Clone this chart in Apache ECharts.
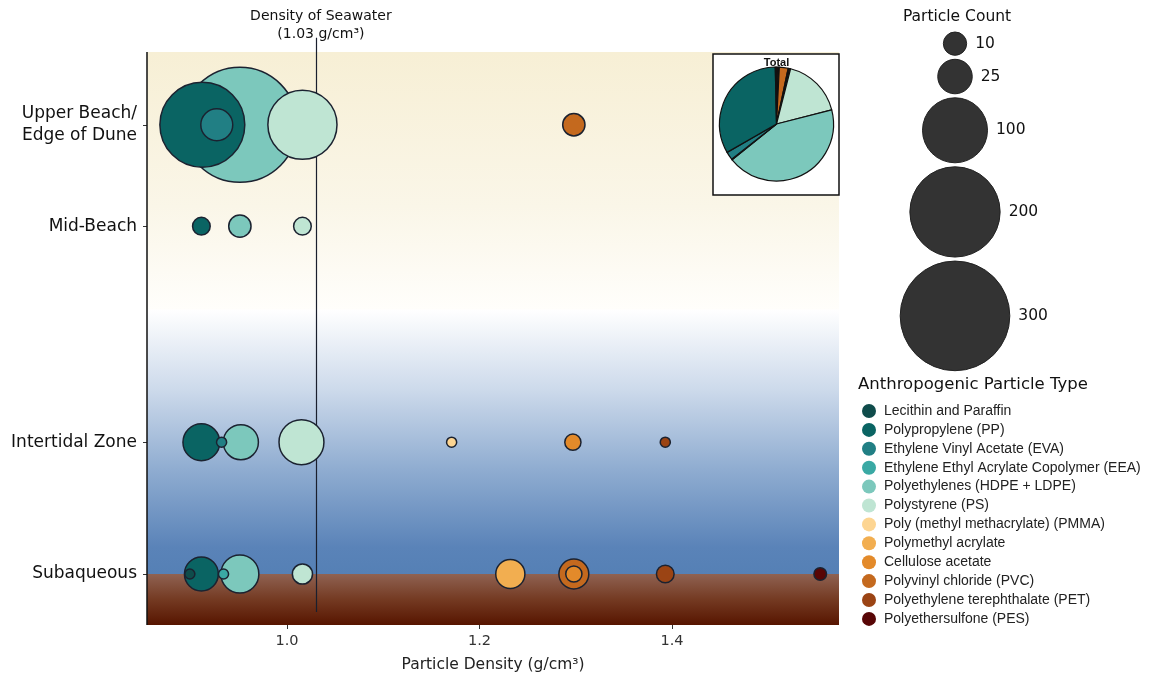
<!DOCTYPE html>
<html>
<head>
<meta charset="utf-8">
<script src="https://cdn.jsdelivr.net/npm/echarts@6/dist/echarts.min.js"></script>
<style>html,body{margin:0;padding:0;background:#fff}#c{width:1160px;height:684px}</style>
</head>
<body>
<div id="c"></div>
<script>
// ---------------- DATA ----------------
const zones = ['Subaqueous', 'Intertidal Zone', 'Mid-Beach', 'Upper Beach/\nEdge of Dune'];
const zoneLevels = [0.89, 3.19, 6.96, 8.73];
const xTicks = [1.0, 1.2, 1.4];
const seawaterDensity = 1.03;

const types = [
  'Lecithin and Paraffin',
  'Polypropylene (PP)',
  'Ethylene Vinyl Acetate (EVA)',
  'Ethylene Ethyl Acrylate Copolymer (EEA)',
  'Polyethylenes (HDPE + LDPE)',
  'Polystyrene (PS)',
  'Poly (methyl methacrylate) (PMMA)',
  'Polymethyl acrylate',
  'Cellulose acetate',
  'Polyvinyl chloride (PVC)',
  'Polyethylene terephthalate (PET)',
  'Polyethersulfone (PES)'
];

// [density, zone index, particle count]
const lecithin  = [[0.899, 0, 1]];
const pp        = [[0.912, 3, 176], [0.911, 2, 5], [0.911, 1, 29], [0.911, 0, 24]];
const eva       = [[0.927, 3, 21], [0.932, 1, 1]];
const eea       = [[0.934, 0, 1]];
const pe        = [[0.951, 3, 331], [0.951, 2, 9], [0.952, 1, 26], [0.951, 0, 31]];
const ps        = [[1.016, 3, 114], [1.016, 2, 5], [1.015, 1, 45], [1.016, 0, 7]];
const pmma      = [[1.171, 1, 1]];
const pma       = [[1.232, 0, 17]];
const cellulose = [[1.297, 1, 4], [1.298, 0, 4]];
const pvc       = [[1.298, 3, 9], [1.298, 0, 18]];
const pet       = [[1.393, 1, 1], [1.393, 0, 5]];
const pes       = [[1.554, 0, 2]];
const typeData = [lecithin, pp, eva, eea, pe, ps, pmma, pma, cellulose, pvc, pet, pes];

// Totals shown in the inset pie
const pieTotals = [3, 290, 20, 2, 380, 150, 1, 2, 3, 22, 3, 4];

const sizeLegendCounts = [10, 25, 100, 200, 300];

// ---------------- STYLE ----------------
const palette = ['#0f4c4b', '#0a6463', '#217f84', '#3aa9a4', '#7cc8bc', '#bfe5d3',
                 '#fdd592', '#f2ae50', '#e38a2a', '#c4691e', '#9b4414', '#580606'];
const FONT = '"DejaVu Sans", Verdana, sans-serif';
const FONT2 = '"Liberation Sans", Arial, sans-serif';
const bubbleSize = n => 4 + 6.1 * Math.sqrt(n);
const xMin = 0.8545, xMax = 1.5735, yMax = 10.25;

const chart = echarts.init(document.getElementById('c'), null, {renderer: 'canvas'});

const maxCount = typeData.map(d => Math.max(...d.map(p => p[2])));
const order = types.map((t, i) => i).sort((a, b) => maxCount[b] - maxCount[a]);
const bubbleSeries = order.map((i, rank) => ({
  name: types[i], type: 'scatter', xAxisIndex: 0, yAxisIndex: 0, z: 10 + rank,
  silent: true, emphasis: {disabled: true},
  data: typeData[i].map(p => [p[0], zoneLevels[p[1]], p[2]]),
  symbolSize: v => bubbleSize(v[2]),
  itemStyle: {color: palette[i], borderColor: '#1b2230', borderWidth: 1.5, opacity: 1}
}));

// size legend: stack circles vertically
const legendCenters = [];
let yCur = 32;
sizeLegendCounts.forEach(n => {
  const r = bubbleSize(n) / 2;
  legendCenters.push(yCur + r);
  yCur += 2 * r + 4;
});

const grad = stops => ({type: 'linear', x: 0, y: 0, x2: 0, y2: 1,
  colorStops: stops.map(s => ({offset: s[0], color: s[1]}))});

const option = {
  animation: false,
  backgroundColor: '#ffffff',
  grid: [
    {left: 147, right: 1160 - 839, top: 625 - 10.25 * 57.3, bottom: 59, containLabel: false},
    {left: 900, top: 0, width: 110, height: 370}
  ],
  xAxis: [
    {
      type: 'value', gridIndex: 0, min: xMin, max: xMax,
      name: 'Particle Density (g/cm³)', nameLocation: 'middle', nameGap: 32,
      nameTextStyle: {fontFamily: FONT, fontSize: 15.5, color: '#222'},
      axisLine: {show: false}, splitLine: {show: false},
      axisTick: {show: true, customValues: xTicks, length: 4, lineStyle: {color: '#333'}},
      axisLabel: {customValues: xTicks, formatter: v => v.toFixed(1), margin: 9,
                  fontFamily: FONT, fontSize: 14.5, color: '#333'}
    },
    {type: 'value', gridIndex: 1, min: 0, max: 1, show: false}
  ],
  yAxis: [
    {
      type: 'value', gridIndex: 0, min: 0, max: yMax,
      axisLine: {show: false}, splitLine: {show: false},
      axisTick: {show: true, customValues: zoneLevels, length: 4, lineStyle: {color: '#333'}},
      axisLabel: {
        customValues: zoneLevels, margin: 10, fontFamily: FONT, fontSize: 17, color: '#111',
        lineHeight: 22, align: 'right',
        formatter: v => {
          let best = 0;
          zoneLevels.forEach((z, i) => { if (Math.abs(z - v) < Math.abs(zoneLevels[best] - v)) best = i; });
          return zones[best];
        }
      }
    },
    {type: 'value', gridIndex: 1, min: 0, max: 370, inverse: true, show: false}
  ],
  legend: {
    data: types, orient: 'vertical', left: 857, top: 399,
    itemWidth: 20, itemHeight: 14, itemGap: 4.9, icon: 'circle',
    itemStyle: {borderWidth: 0},
    textStyle: {fontFamily: FONT2, fontSize: 14, color: '#222'},
    selectedMode: false
  },
  graphic: [
    {type: 'rect', z: 8, shape: {x: 713, y: 54, width: 126, height: 141},
     style: {fill: '#ffffff', stroke: '#111', lineWidth: 1.5}},
    {type: 'text', z: 30, style: {x: 776.5, y: 63, text: 'Total', textAlign: 'center',
     textVerticalAlign: 'middle', font: 'bold 11px "Liberation Sans", Arial', fill: '#111'}},
    {type: 'text', z: 30, style: {x: 957, y: 17, text: 'Particle Count', textAlign: 'center',
     textVerticalAlign: 'middle', font: '15.5px "DejaVu Sans", Verdana', fill: '#111'}},
    {type: 'text', z: 30, style: {x: 858, y: 385, text: 'Anthropogenic Particle Type', textAlign: 'left',
     textVerticalAlign: 'middle', font: '16.5px "DejaVu Sans", Verdana', fill: '#111'}}
  ],
  series: [
    {
      type: 'scatter', xAxisIndex: 0, yAxisIndex: 0, data: [], silent: true, z: 1,
      markArea: {
        silent: true,
        data: [
          [{yAxis: 5.5, itemStyle: {color: grad([[0, '#f7efd5'], [0.6, '#faf6e8'], [1, '#fffefb']])}}, {yAxis: 10}],
          [{yAxis: zoneLevels[0], itemStyle: {color: grad([[0, '#ffffff'], [0.3, '#cddaeb'], [0.6, '#90add1'], [0.9, '#5a83b8'], [1, '#5580b5']])}}, {yAxis: 5.5}],
          [{yAxis: 0, itemStyle: {color: grad([[0, '#8f6252'], [0.5, '#743a22'], [1, '#571500']])}}, {yAxis: zoneLevels[0]}]
        ]
      },
      markLine: {
        silent: true, symbol: 'none',
        data: [
          [{coord: [xMin, 0], lineStyle: {color: '#111', width: 1.5, type: 'solid'}, label: {show: false}},
           {coord: [xMin, 10]}],
          [{coord: [seawaterDensity, 0.227], lineStyle: {color: '#1a1f2e', width: 1.2, type: 'solid'},
            label: {show: true, position: 'end', formatter: 'Density of Seawater\n(1.03 g/cm³)',
                    fontFamily: FONT, fontSize: 14, color: '#111', lineHeight: 18, distance: 2, offset: [5, 8]}},
           {coord: [seawaterDensity, yMax]}]
        ]
      }
    },
    ...bubbleSeries,
    {
      type: 'pie', z: 20, center: [776.5, 124], radius: 57, startAngle: 90, clockwise: true,
      silent: true, label: {show: false}, labelLine: {show: false}, legendHoverLink: false,
      itemStyle: {borderColor: '#111', borderWidth: 1.2},
      data: types.map((t, i) => ({name: t, value: pieTotals[i], itemStyle: {color: palette[i]}})).reverse()
    },
    {
      type: 'scatter', xAxisIndex: 1, yAxisIndex: 1, silent: true, z: 10,
      data: sizeLegendCounts.map((n, i) => [0.5, legendCenters[i], n]),
      symbolSize: v => bubbleSize(v[2]),
      itemStyle: {color: '#333333', borderColor: '#222', borderWidth: 1, opacity: 1},
      label: {show: true, position: 'right', distance: 8, formatter: p => String(p.value[2]),
              fontFamily: FONT, fontSize: 15.5, color: '#111', opacity: 1}
    }
  ]
};
chart.setOption(option);
</script>
</body>
</html>
